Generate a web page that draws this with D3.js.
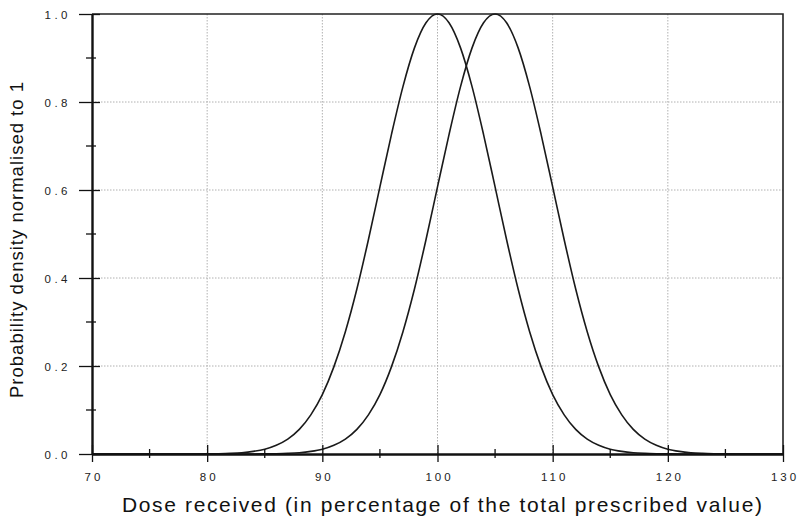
<!DOCTYPE html>
<html>
<head>
<meta charset="utf-8">
<script src="https://cdn.jsdelivr.net/npm/d3@7"></script>
<style>
  html, body { margin: 0; padding: 0; background: #fff; }
  svg { display: block; }
</style>
</head>
<body>
<svg id="chart" width="798" height="522"></svg>
<script>
// ---- data ----
const doseValues = d3.range(70, 131, 1); // x positions: 70 .. 130
// curve centred at 100 %
const curveA = [
  0,0,0,0,0,0,0,0,0,0,            // 70-79
  0.0003,0.0007,0.0015,0.003,0.006,0.011,0.020,0.034,0.056,0.089, // 80-89
  0.135,0.198,0.278,0.375,0.487,0.607,0.726,0.835,0.923,0.980,    // 90-99
  1.0,                                                          // 100
  0.980,0.923,0.835,0.726,0.607,0.487,0.375,0.278,0.198,0.135,   // 101-110
  0.089,0.056,0.034,0.020,0.011,0.006,0.003,0.0015,0.0007,0.0003, // 111-120
  0,0,0,0,0,0,0,0,0,0             // 121-130
];
// curve centred at 105 %
const curveB = [
  0,0,0,0,0,0,0,0,0,0,0,0,0,0,0,  // 70-84
  0.0003,0.0007,0.0015,0.003,0.006,0.011,0.020,0.034,0.056,0.089, // 85-94
  0.135,0.198,0.278,0.375,0.487,0.607,0.726,0.835,0.923,0.980,    // 95-104
  1.0,                                                          // 105
  0.980,0.923,0.835,0.726,0.607,0.487,0.375,0.278,0.198,0.135,   // 106-115
  0.089,0.056,0.034,0.020,0.011,0.006,0.003,0.0015,0.0007,0.0003, // 116-125
  0,0,0,0,0                       // 126-130
];
const xTicks = [70, 80, 90, 100, 110, 120, 130];
const xMinorTicks = [75, 85, 95, 105, 115, 125];
const yTicks = [0, 0.2, 0.4, 0.6, 0.8, 1.0];
const yMinorTicks = [0.1, 0.3, 0.5, 0.7, 0.9];
const yTickLabels = ["0.0", "0.2", "0.4", "0.6", "0.8", "1.0"];
const xTitle = "Dose received (in percentage of the total prescribed value)";
const yTitle = "Probability density normalised to 1";

// ---- layout ----
const svg = d3.select("#chart");
const pL = 92, pR = 783, pT = 14, pB = 454;
const x = d3.scaleLinear().domain([70, 130]).range([pL, pR]);
const y = d3.scaleLinear().domain([0, 1]).range([pB, pT]);
const FONT = "Liberation Sans, Arial, sans-serif";

// gridlines
const grid = svg.append("g");
grid.selectAll("line.vg").data(xTicks.slice(1, -1)).join("line")
  .attr("x1", d => x(d)).attr("x2", d => x(d))
  .attr("y1", pT).attr("y2", pB)
  .attr("stroke", "#b0b0b0").attr("stroke-width", 1).attr("stroke-dasharray", "1.5,1.5");
grid.selectAll("line.hg").data(yTicks.slice(1, -1)).join("line")
  .attr("x1", pL).attr("x2", pR)
  .attr("y1", d => y(d)).attr("y2", d => y(d))
  .attr("stroke", "#b0b0b0").attr("stroke-width", 1).attr("stroke-dasharray", "1.5,1.5");

// border (top, right)
svg.append("path")
  .attr("d", `M${pL},${pT}H${pR}V${pB}`)
  .attr("fill", "none").attr("stroke", "#222").attr("stroke-width", 1.6);

// curves
const line = d3.line()
  .x((d, i) => x(doseValues[i]))
  .y(d => y(d))
  .curve(d3.curveMonotoneX);
[curveA, curveB].forEach(c => {
  svg.append("path").datum(c)
    .attr("d", line)
    .attr("fill", "none")
    .attr("stroke", "#1a1a1a")
    .attr("stroke-width", 1.6);
});

// axes
const xAxis = d3.axisBottom(x).tickValues(xTicks).tickSize(0).tickFormat(d3.format("d"));
const gx = svg.append("g").attr("transform", `translate(0,${pB})`).call(xAxis);
gx.select(".domain").attr("stroke", "#111").attr("stroke-width", 2.4);
gx.selectAll(".tick text").attr("dy", 0).attr("y", 27).attr("dx", 1.5)
  .attr("font-family", FONT).attr("font-size", 11.5)
  .attr("letter-spacing", 3).attr("fill", "#222");
gx.selectAll(".tick").append("line").attr("y1", -9).attr("y2", 8).attr("stroke", "#111").attr("stroke-width", 1.3);
svg.append("g").selectAll("line").data(xMinorTicks).join("line")
  .attr("x1", d => x(d)).attr("x2", d => x(d))
  .attr("y1", pB - 5).attr("y2", pB + 4)
  .attr("stroke", "#111").attr("stroke-width", 1.3);

const yAxis = d3.axisLeft(y).tickValues(yTicks).tickSize(0)
  .tickFormat((d, i) => yTickLabels[i]);
const gy = svg.append("g").attr("transform", `translate(${pL},0)`).call(yAxis);
gy.select(".domain").attr("stroke", "#111").attr("stroke-width", 2.4);
gy.selectAll(".tick text").attr("x", -21).attr("dy", "0.35em")
  .attr("font-family", FONT).attr("font-size", 11.5)
  .attr("letter-spacing", 3.5).attr("fill", "#222");
gy.selectAll(".tick").append("line").attr("x1", -13).attr("x2", 8).attr("stroke", "#111").attr("stroke-width", 1.3);
svg.append("g").selectAll("line").data(yMinorTicks).join("line")
  .attr("x1", pL - 6).attr("x2", pL + 4)
  .attr("y1", d => y(d)).attr("y2", d => y(d))
  .attr("stroke", "#111").attr("stroke-width", 1.3);

// titles
svg.append("text")
  .attr("x", 442).attr("y", 512)
  .attr("text-anchor", "middle")
  .attr("font-family", FONT)
  .attr("font-size", 21).attr("fill", "#111")
  .attr("textLength", 640).attr("lengthAdjust", "spacing")
  .text(xTitle);
svg.append("text")
  .attr("transform", "translate(23,240) rotate(-90)")
  .attr("text-anchor", "middle")
  .attr("font-family", FONT)
  .attr("font-size", 18.5).attr("fill", "#111")
  .attr("textLength", 316).attr("lengthAdjust", "spacing")
  .text(yTitle);
</script>
</body>
</html>
